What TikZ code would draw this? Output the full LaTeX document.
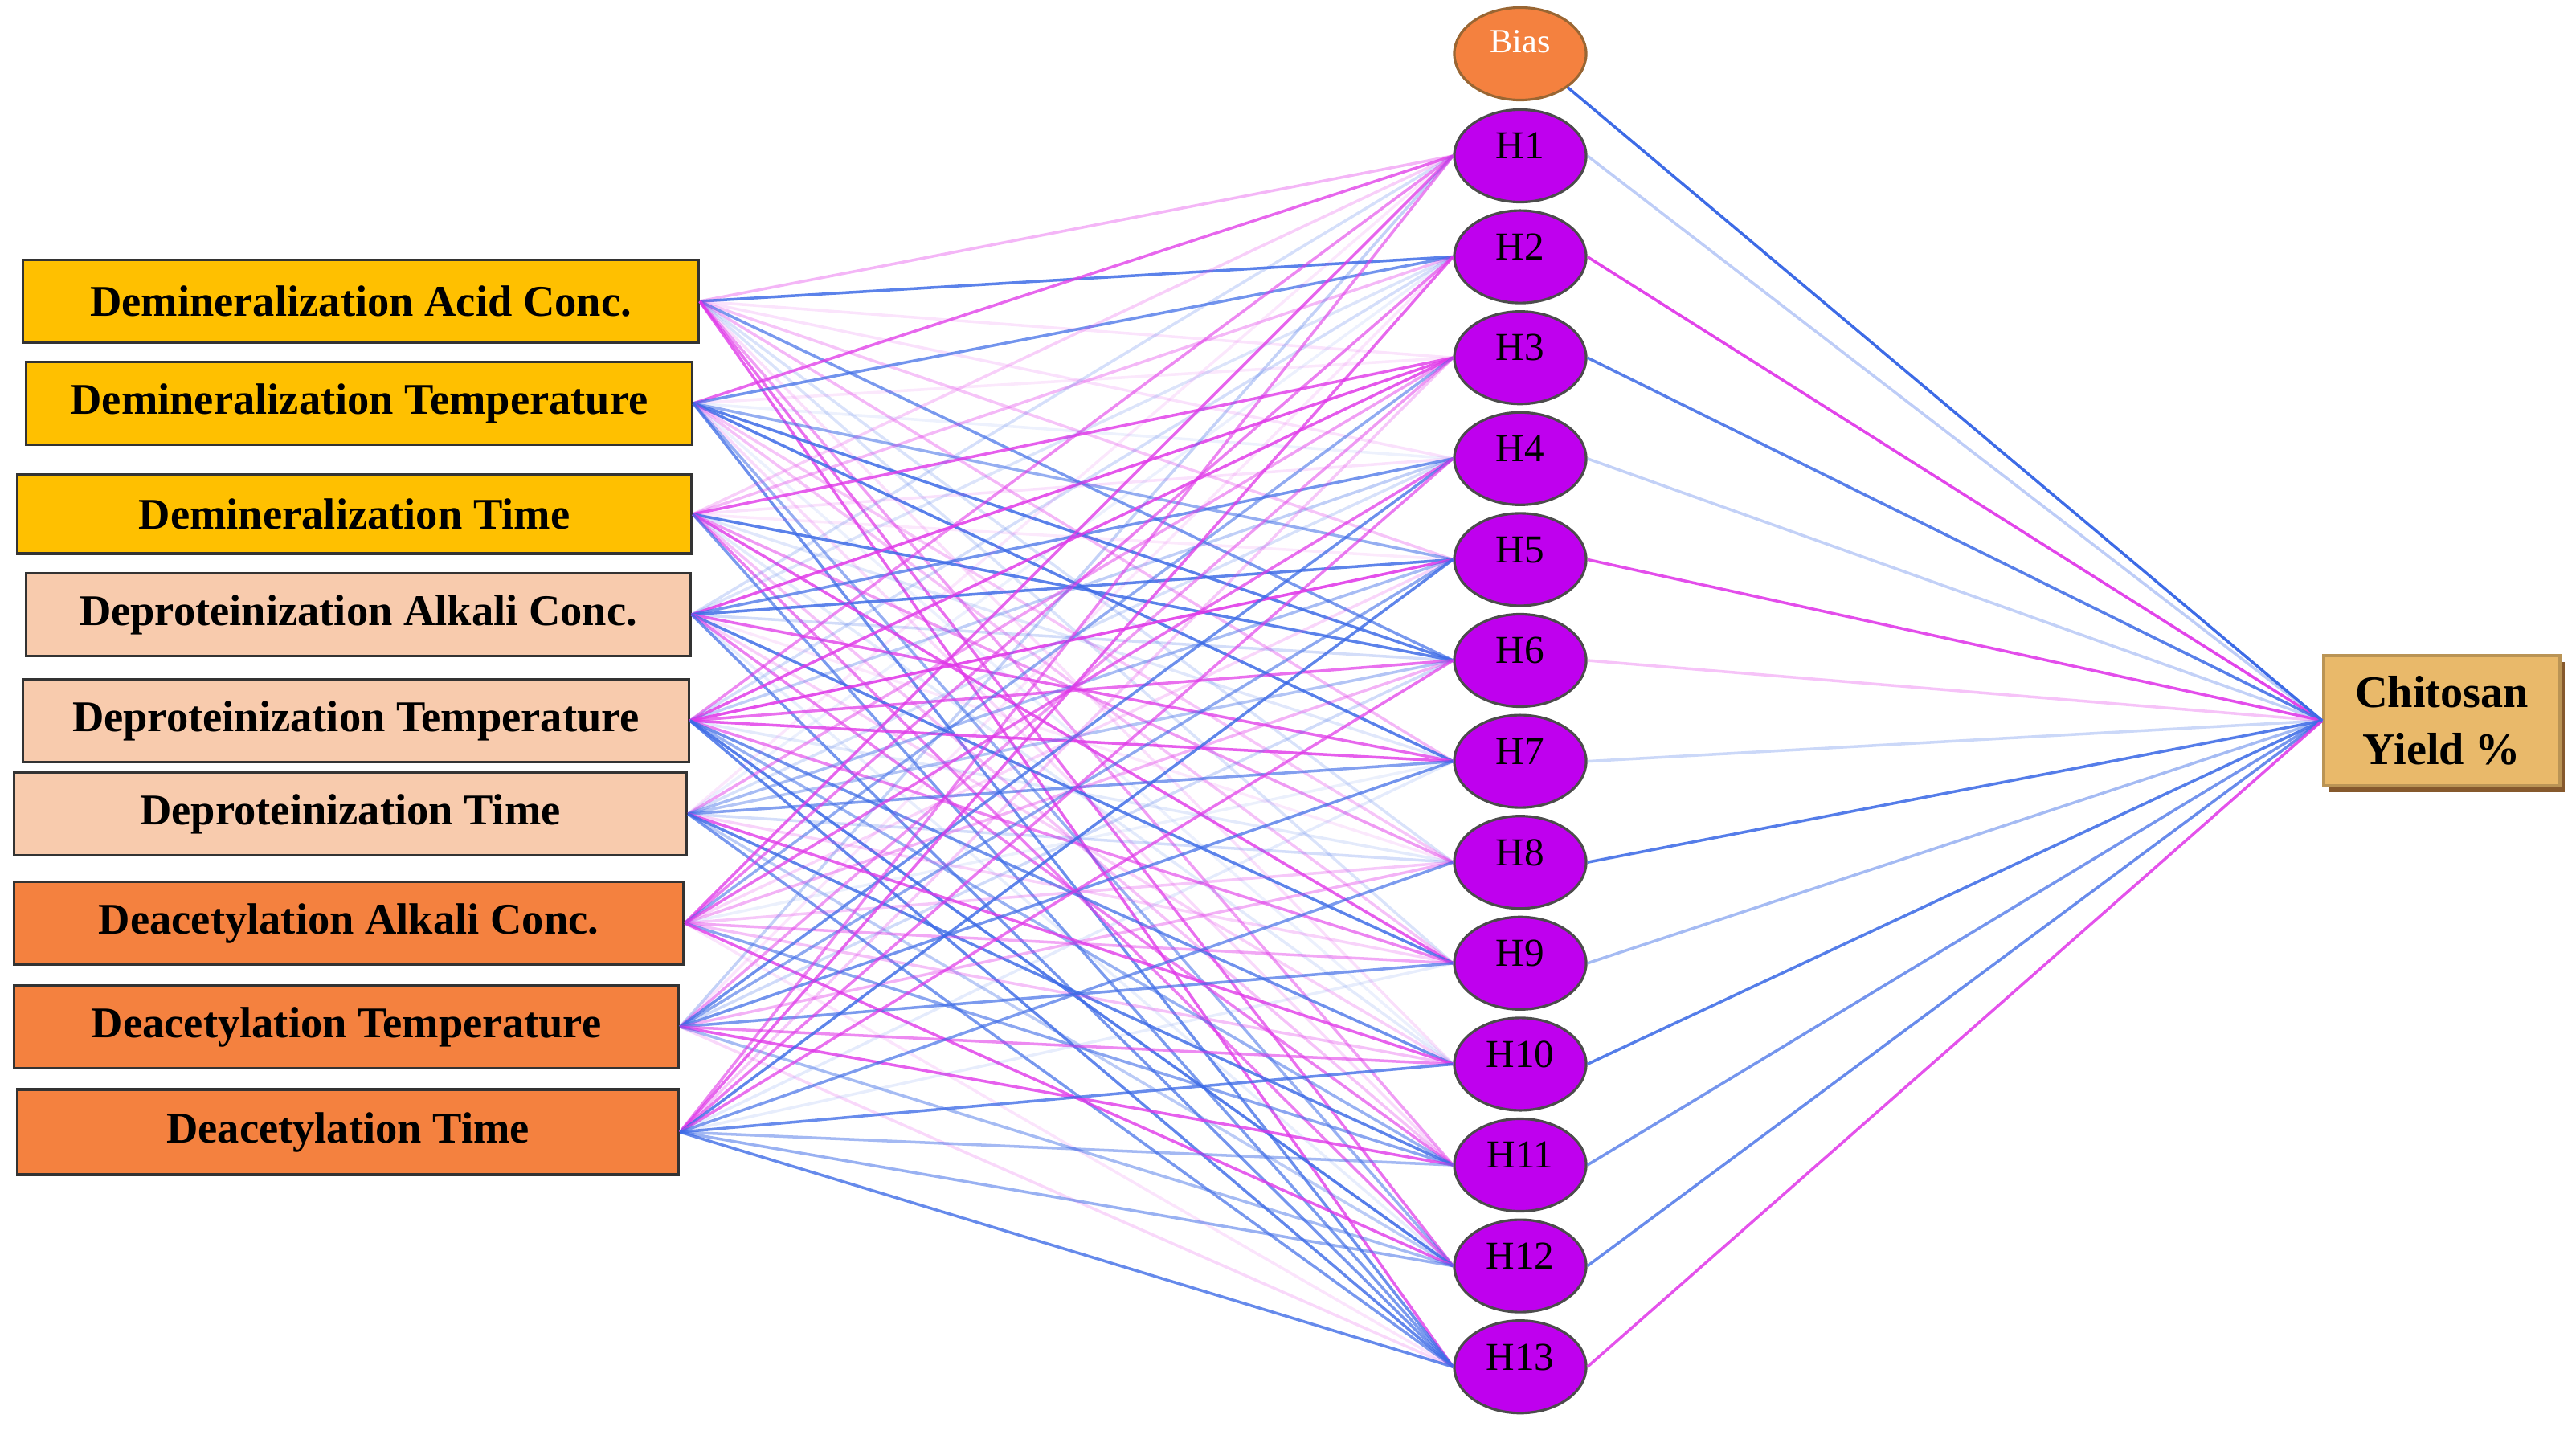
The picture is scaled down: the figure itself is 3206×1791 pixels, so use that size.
\documentclass[tikz,border=0pt]{standalone}
\usepackage{fontspec}
\setmainfont{Liberation Serif}
\usetikzlibrary{shapes.geometric,shadows}
\definecolor{demcol}{HTML}{FFC000}
\definecolor{depcol}{HTML}{F8CBAD}
\definecolor{deacol}{HTML}{F4813F}
\definecolor{hidcol}{HTML}{BF00EE}
\definecolor{biascol}{HTML}{F4813F}
\definecolor{outcol}{HTML}{E9B96A}
\definecolor{wblue}{HTML}{3D6BE6}
\definecolor{wpink}{HTML}{E038E8}
\tikzset{
  inbox/.style={draw=black!80, line width=0.9pt, minimum height=1.03cm, inner sep=0pt, font=\fontsize{15.5}{18}\selectfont\bfseries},
  hid/.style={ellipse, draw=black!70, fill=hidcol, line width=0.9pt, minimum width=1.64cm, minimum height=1.15cm, inner sep=0pt, font=\fontsize{14}{16}\selectfont},
  wire/.style={line width=1pt},
}
\pgfmathdeclarerandomlist{wcol}{{wblue}{wpink}}
\begin{document}
\begin{tikzpicture}[x=0.01cm, y=-0.01cm]
\useasboundingbox (0,0) rectangle (3206,1791);
\pgfmathsetseed{17}

% inputs
\node[inbox, fill=demcol, minimum width=8.40cm] (in1) at (449,375) {Demineralization Acid Conc.};
\node[inbox, fill=demcol, minimum width=8.28cm] (in2) at (447,502) {Demineralization Temperature};
\node[inbox, fill=demcol, minimum width=8.39cm, minimum height=0.98cm] (in3) at (441,640) {Demineralization Time};
\node[inbox, fill=depcol, minimum width=8.26cm] (in4) at (446,765) {Deproteinization Alkali Conc.};
\node[inbox, fill=depcol, minimum width=8.28cm] (in5) at (443,897) {Deproteinization Temperature};
\node[inbox, fill=depcol, minimum width=8.37cm] (in6) at (436,1013) {Deproteinization Time};
\node[inbox, fill=deacol, minimum width=8.33cm] (in7) at (434,1149) {Deacetylation Alkali Conc.};
\node[inbox, fill=deacol, minimum width=8.27cm] (in8) at (431,1278) {Deacetylation Temperature};
\node[inbox, fill=deacol, minimum width=8.23cm, minimum height=1.06cm] (in9) at (433,1409) {Deacetylation Time};

% hidden layer
\node[ellipse, draw=brown!80!black, fill=biascol, line width=0.9pt, minimum width=1.64cm, minimum height=1.15cm, inner sep=0pt, text=white, font=\fontsize{12}{14}\selectfont] (bias) at (1892,67) {\raisebox{3mm}{Bias}};
\foreach \j in {1,...,13}
  \node[hid] (h\j) at (1892,{194+125.6*(\j-1)}) {\raisebox{2.5mm}{H\j}};

% output
\node[draw=outcol!80!black, fill=outcol, line width=1pt, minimum width=2.94cm, minimum height=1.62cm, align=center, font=\fontsize{16}{20}\selectfont\bfseries, drop shadow={shadow xshift=0.6mm, shadow yshift=-0.8mm, fill=brown!70!black, opacity=1}] (out) at (3039,897) {Chitosan\\Yield \%};

% weights
\begin{scope}[on background layer/.try]
\foreach \i in {1,...,9}
  \foreach \j in {1,...,13} {
    \pgfmathrandomitem{\wc}{wcol}
    \pgfmathsetmacro{\wo}{0.08+0.8*rnd}
    \draw[wire, draw=\wc, draw opacity=\wo] (in\i.east) -- (h\j.west);
  }
\foreach \j in {1,...,13} {
  \pgfmathrandomitem{\wc}{wcol}
  \pgfmathsetmacro{\wo}{0.15+0.8*rnd}
  \draw[wire, draw=\wc, draw opacity=\wo] (h\j.east) -- (out.west);
}
\draw[wire, draw=wblue] (bias.south east) -- (out.west);
\end{scope}
\end{tikzpicture}
\end{document}
